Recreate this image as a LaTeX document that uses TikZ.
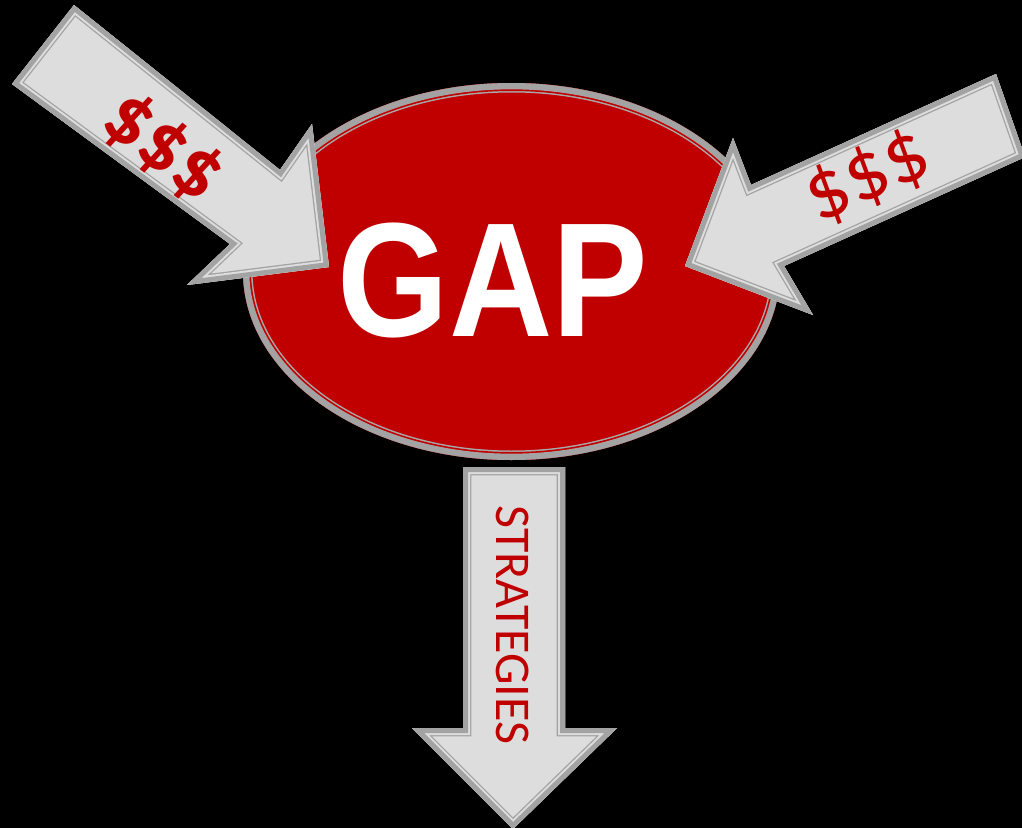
\documentclass[tikz,border=0pt]{standalone}
\usepackage{fontspec}
\setmainfont{Liberation Sans}
\newfontfamily\carlito{Carlito}
\definecolor{gapred}{HTML}{C00000}
\definecolor{rimgray}{HTML}{A3A3A3}
\definecolor{innergray}{HTML}{A8A8A8}
\definecolor{paper}{HTML}{DDDDDD}
\tikzset{
  % layered rims, drawn inside a clip so only the inner half of each stroke shows
  rimA/.style={draw=rimgray, line width=12.45pt, line join=miter},
  rimB/.style={draw=paper,   line width=10.5pt,  line join=miter},
  rimC/.style={draw=rimgray, line width=7.5pt,   line join=miter},
  ovalA/.style={draw=innergray, line width=14.25pt},
  ovalB/.style={draw=gapred,    line width=12pt},
  ovalC/.style={draw=rimgray,   line width=9.5pt},
  cash/.style={text=gapred, inner sep=0pt, font=\carlito\fontsize{63}{63}\selectfont},
}
% a flat arrow shape with an outer rim and a fine inner line
\newcommand\framedarrow[1]{%
  \fill[paper] #1 -- cycle;
  \begin{scope}
    \clip #1 -- cycle;
    \draw[rimA] #1 -- cycle;
    \draw[rimB] #1 -- cycle;
    \draw[rimC] #1 -- cycle;
  \end{scope}}
\begin{document}
\begin{tikzpicture}[x=0.75pt, y=-0.75pt]
  \useasboundingbox (0,0) rectangle (1022,828);
  \fill[black] (0,0) rectangle (1022,828);

  % central oval
  \begin{scope}
    \clip (511.5,271.5) ellipse [x radius=268.5, y radius=188.5];
    \fill[gapred] (511.5,271.5) ellipse [x radius=268.5, y radius=188.5];
    \draw[ovalA] (511.5,271.5) ellipse [x radius=268.5, y radius=188.5];
    \draw[ovalB] (511.5,271.5) ellipse [x radius=268.5, y radius=188.5];
    \draw[ovalC] (511.5,271.5) ellipse [x radius=268.5, y radius=188.5];
  \end{scope}
  \node[anchor=base, inner sep=0pt, text=white, xscale=0.88,
        font=\bfseries\fontsize{122}{122}\selectfont] (gap) at (493,336) {GAP};

  % incoming arrow, upper left
  \framedarrow{(74,5) -- (280,170) -- (312,124) -- (329,267) -- (187,285) -- (230,244) -- (12,84)}
  \node[cash, font=\carlito\bfseries\fontsize{63}{63}\selectfont, rotate=-37.5] (cashL) at (163,148) {\$\$\$};

  % incoming arrow, upper right
  \framedarrow{(996,74) -- (1025,157) -- (784,266) -- (813,315) -- (685,266) -- (733,138) -- (751,185)}
  \node[cash, rotate=24.4] (cashR) at (868,177) {\$\$\$};

  % outgoing arrow, bottom
  \framedarrow{(463,467) -- (565,467) -- (565,728) -- (617,728) -- (513,829) -- (412,728) -- (463,728)}
  \node[text=gapred, inner sep=0pt, rotate=-90, font=\carlito\fontsize{37.5}{37.5}\selectfont]
       (strategies) at (512.5,625) {STRATEGIES};
\end{tikzpicture}
\end{document}
